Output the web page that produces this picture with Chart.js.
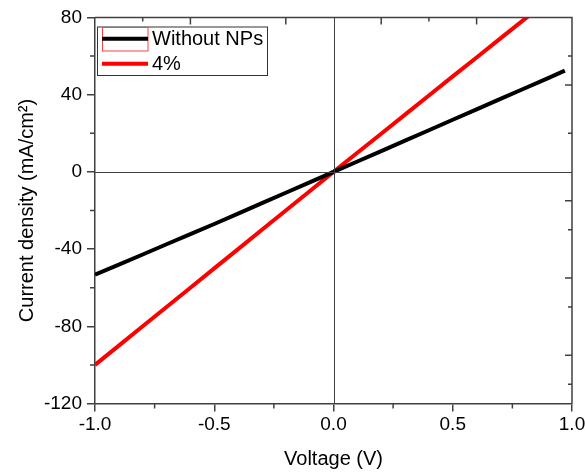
<!DOCTYPE html>
<html>
<head>
<meta charset="utf-8">
<script src="https://cdn.jsdelivr.net/npm/chart.js@4/dist/chart.umd.min.js"></script>
<style>
  body { margin: 0; background: #fff; }
  canvas { display: block; }
</style>
</head>
<body>
<canvas id="ivChart" width="585" height="472"></canvas>
<script>
// Data
const voltage = [-1.0, -0.9, -0.8, -0.7, -0.6, -0.5, -0.4, -0.3, -0.2, -0.1, 0.0,
                 0.1, 0.2, 0.3, 0.4, 0.5, 0.6, 0.7, 0.8, 0.9, 0.97];
const withoutNPs = [-53.2, -48, -42.8, -37.5, -32.2, -27, -21.6, -16.2, -10.8, -5.4, 0,
                    5.4, 10.8, 16.2, 21.6, 27, 32.4, 37.8, 43.2, 48.6, 52.5];
const fourPct = [-100, -90, -80, -70, -60, -50, -40, -30, -20, -10, 0,
                 9.9, 19.8, 29.7, 39.6, 49.5, 59.3, 69.2, 79, 88.9, 95.8];
const seriesLabels = ["Without NPs", "4%"];

const xTicks = [-1.0, -0.5, 0.0, 0.5, 1.0];
const yTicks = [-120, -80, -40, 0, 40, 80];
const xMinor = [-0.75, -0.25, 0.25, 0.75];
const yMinor = [-100, -60, -20, 20, 60];
const topTicks = [-0.8, -0.6, -0.2, 0.2, 0.4, 0.6];
const rightTicks = [60, 45, 20, -15, -30, -55, -70, -95, -110];

const axisColor = "#404040";
const fontFam = "'Liberation Sans', Arial, sans-serif";

function toPoints(xs, ys) {
  return xs.map((x, i) => ({ x: x, y: ys[i] }));
}

// frame, extra ticks, zero lines and the boxed legend
const extrasPlugin = {
  id: "extras",
  afterDatasetsDraw(chart) {
    const ctx = chart.ctx;
    const a = chart.chartArea;
    const xs = chart.scales.x;
    const ys = chart.scales.y;
    ctx.save();
    ctx.strokeStyle = axisColor;

    // zero lines
    ctx.lineWidth = 1;
    const x0 = Math.round(xs.getPixelForValue(0)) + 0.5;
    const y0 = Math.round(ys.getPixelForValue(0)) + 0.5;
    ctx.beginPath();
    ctx.moveTo(x0, a.top); ctx.lineTo(x0, a.bottom);
    ctx.moveTo(a.left, y0); ctx.lineTo(a.right, y0);
    ctx.stroke();

    // top and right borders
    ctx.lineWidth = 1.5;
    ctx.beginPath();
    ctx.moveTo(a.left, a.top); ctx.lineTo(a.right, a.top); ctx.lineTo(a.right, a.bottom);
    ctx.stroke();

    // minor outward ticks
    ctx.beginPath();
    xMinor.forEach(v => {
      const p = xs.getPixelForValue(v);
      ctx.moveTo(p, a.bottom); ctx.lineTo(p, a.bottom + 5);
    });
    yMinor.forEach(v => {
      const p = ys.getPixelForValue(v);
      ctx.moveTo(a.left, p); ctx.lineTo(a.left - 5, p);
    });
    // inward ticks on top and right
    topTicks.forEach(v => {
      const p = xs.getPixelForValue(v);
      const len = (v === -0.8 || v === 0.4) ? 4 : 7;
      ctx.moveTo(p, a.top); ctx.lineTo(p, a.top + len);
    });
    rightTicks.forEach((v, i) => {
      const p = ys.getPixelForValue(v);
      const len = i % 2 === 0 ? 4 : 7;
      ctx.moveTo(a.right, p); ctx.lineTo(a.right - len, p);
    });
    ctx.stroke();

    // legend box
    const lx = 97, ly = 26.5, lw = 170, lh = 48.5;
    ctx.fillStyle = "#fff";
    ctx.fillRect(lx, ly, lw, lh);
    ctx.lineWidth = 1;
    ctx.strokeStyle = "#333";
    ctx.strokeRect(lx + 0.5, ly + 0.5, lw, lh);

    // selection rectangle round the first sample
    ctx.strokeStyle = "#ff4040";
    ctx.strokeRect(102.5, 27.5, 45.5, 23.5);

    ctx.font = "20px " + fontFam;
    ctx.textBaseline = "middle";
    chart.data.datasets.forEach((ds, i) => {
      const yy = i === 0 ? 38.7 : 63.7;
      ctx.strokeStyle = ds.borderColor;
      ctx.lineWidth = 4;
      ctx.beginPath();
      ctx.moveTo(102, yy); ctx.lineTo(148, yy);
      ctx.stroke();
      ctx.fillStyle = "#000";
      ctx.fillText(ds.label, 152, yy + 1);
    });
    ctx.restore();
  }
};

const ctx = document.getElementById("ivChart").getContext("2d");
const chart = new Chart(ctx, {
  type: "line",
  data: {
    datasets: [
      {
        label: seriesLabels[0],
        data: toPoints(voltage, withoutNPs),
        borderColor: "#000000",
        borderWidth: 4,
        pointRadius: 0,
        tension: 0,
        clip: 0
      },
      {
        label: seriesLabels[1],
        data: toPoints(voltage, fourPct),
        borderColor: "#ff0000",
        borderWidth: 4,
        pointRadius: 0,
        tension: 0,
        clip: 0
      }
    ]
  },
  options: {
    responsive: false,
    animation: false,
    devicePixelRatio: 1,
    layout: { padding: { top: 17.5, right: 13, left: 0, bottom: 0 } },
    plugins: {
      legend: { display: false },
      tooltip: { enabled: false }
    },
    scales: {
      x: {
        type: "linear",
        min: -1,
        max: 1,
        afterBuildTicks: s => { s.ticks = xTicks.map(v => ({ value: v })); },
        afterFit: s => { s.height = 68.5; s.paddingRight = 0; s.paddingLeft = 0; },
        ticks: {
          color: "#000",
          padding: 2,
          maxRotation: 0,
          font: { family: fontFam, size: 19 },
          callback: v => v.toFixed(1)
        },
        grid: { drawOnChartArea: false, tickLength: 8, color: axisColor, lineWidth: 1.5 },
        border: { color: axisColor, width: 1.5 },
        title: {
          display: true,
          text: "Voltage (V)",
          color: "#000",
          font: { family: fontFam, size: 20, lineHeight: 1.2 },
          padding: { top: 0, bottom: 1 }
        }
      },
      y: {
        type: "linear",
        min: -120,
        max: 80,
        afterBuildTicks: s => { s.ticks = yTicks.map(v => ({ value: v })); },
        afterFit: s => { s.width = 95; },
        ticks: {
          color: "#000",
          padding: 5,
          font: { family: fontFam, size: 19 }
        },
        grid: { drawOnChartArea: false, tickLength: 8, color: axisColor, lineWidth: 1.5 },
        border: { color: axisColor, width: 1.5 },
        title: {
          display: true,
          text: "Current density (mA/cm²)",
          color: "#000",
          font: { family: fontFam, size: 20, lineHeight: 1.2 },
          padding: { top: 15, bottom: 0 }
        }
      }
    }
  },
  plugins: [extrasPlugin]
});
</script>
</body>
</html>
